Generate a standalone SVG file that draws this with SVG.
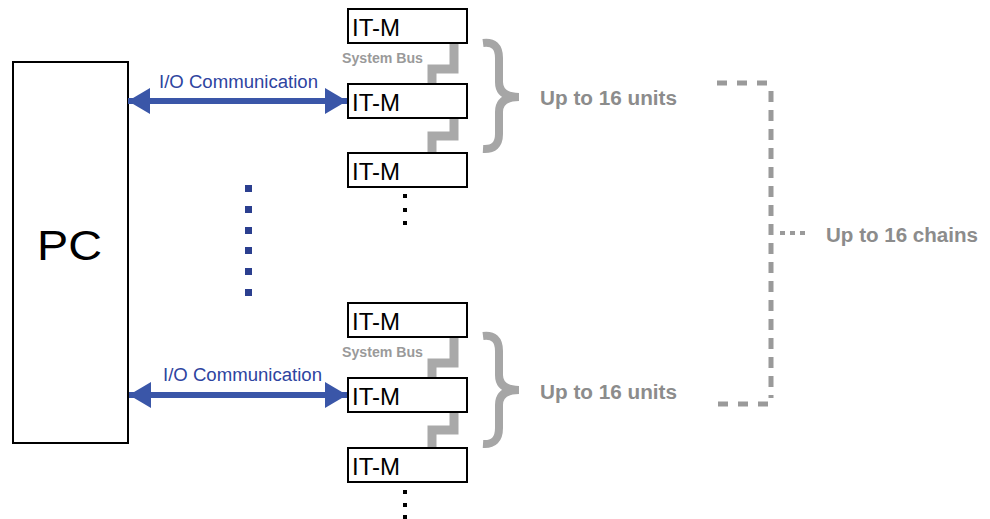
<svg xmlns="http://www.w3.org/2000/svg" width="990" height="519" viewBox="0 0 990 519">
<style>
.box{fill:#fff;stroke:#000;stroke-width:2}
.itm{font-family:"Liberation Sans",Arial,sans-serif;font-size:24px;fill:#000}
.bus{fill:none;stroke:#a9a9a9;stroke-width:9}
.busl{font-family:"Liberation Sans",Arial,sans-serif;font-size:14px;font-weight:bold;fill:#9a9a9a}
.brace{fill:none;stroke:#a6a6a6;stroke-width:8;stroke-linecap:butt}
.gt{font-family:"Liberation Sans",Arial,sans-serif;font-size:20px;font-weight:bold;fill:#8c8c8c}
.io{font-family:"Liberation Sans",Arial,sans-serif;font-size:18px;fill:#2e44a0}
.arr{stroke:#3a56a8;stroke-width:6;fill:none}
.dash{fill:none;stroke:#9a9a9a;stroke-width:5}
</style>
<defs>
<marker id="ah" viewBox="0 0 22 26" refX="22" refY="13" markerWidth="22" markerHeight="26" markerUnits="userSpaceOnUse" orient="auto-start-reverse">
<path d="M0 0 L22 13 L0 26 Z" fill="#3a56a8"/>
</marker>
</defs>

<g id="pc">
<rect class="box" x="13" y="62" width="115" height="381"/>
<text x="37" y="260" font-family="Liberation Sans,Arial,sans-serif" font-size="43" textLength="65" lengthAdjust="spacingAndGlyphs">PC</text>
</g>

<g id="itm1"><rect class="box" x="348" y="9" width="119" height="34"/><text class="itm" x="352" y="36">IT-M</text></g>
<g id="itm2"><rect class="box" x="348" y="84" width="119" height="34"/><text class="itm" x="352" y="111">IT-M</text></g>
<g id="itm3"><rect class="box" x="348" y="153" width="119" height="34"/><text class="itm" x="352" y="180">IT-M</text></g>
<g id="itm4"><rect class="box" x="348" y="303" width="119" height="34"/><text class="itm" x="352" y="330">IT-M</text></g>
<g id="itm5"><rect class="box" x="348" y="378" width="119" height="34"/><text class="itm" x="352" y="405">IT-M</text></g>
<g id="itm6"><rect class="box" x="348" y="448" width="119" height="34"/><text class="itm" x="352" y="475">IT-M</text></g>

<g id="connectors">
<path class="bus" d="M454 44 V69 H432 V83"/>
<path class="bus" d="M454 119 V136 H432 V152"/>
<path class="bus" d="M454 338 V363 H432 V377"/>
<path class="bus" d="M454 413 V430 H432 V447"/>
<line class="arr" x1="128" y1="101" x2="347" y2="101" marker-start="url(#ah)" marker-end="url(#ah)"/>
<line class="arr" x1="129" y1="395" x2="347" y2="395" marker-start="url(#ah)" marker-end="url(#ah)"/>
<path class="dash" d="M717 83 H772" stroke-dasharray="10 10"/>
<path class="dash" d="M771 91 V398" stroke-dasharray="11 8"/>
<path class="dash" d="M718 404 H772" stroke-dasharray="10 10"/>
<path d="M780 233 H810" fill="none" stroke="#9a9a9a" stroke-width="4" stroke-dasharray="5 5"/>
</g>

<g id="labels">
<text class="busl" x="342" y="63" textLength="81" lengthAdjust="spacingAndGlyphs">System Bus</text>
<text class="busl" x="342" y="357" textLength="81" lengthAdjust="spacingAndGlyphs">System Bus</text>
<text class="io" x="159" y="88" textLength="159" lengthAdjust="spacingAndGlyphs">I/O Communication</text>
<text class="io" x="163" y="381" textLength="159" lengthAdjust="spacingAndGlyphs">I/O Communication</text>
<text class="gt" x="540" y="105" textLength="137" lengthAdjust="spacingAndGlyphs">Up to 16 units</text>
<text class="gt" x="540" y="399" textLength="137" lengthAdjust="spacingAndGlyphs">Up to 16 units</text>
<text class="gt" x="826" y="242" textLength="152" lengthAdjust="spacingAndGlyphs">Up to 16 chains</text>
</g>

<g id="braces">
<path class="brace" d="M483 43 Q499 41 499 58 L499 82 Q499 97 519 97 Q499 97 499 112 L499 134 Q499 150 483 149"/>
<path class="brace" d="M483 336 Q499 334 499 351 L499 375 Q499 390 519 390 Q499 390 499 405 L499 428 Q499 445 483 444"/>
</g>

<g id="dots" fill="#2b3f8f">
<rect x="245" y="185" width="7" height="7"/>
<rect x="245" y="206" width="7" height="7"/>
<rect x="245" y="227" width="7" height="7"/>
<rect x="245" y="247" width="7" height="7"/>
<rect x="245" y="268" width="7" height="7"/>
<rect x="245" y="289" width="7" height="7"/>
</g>
<g id="ellipsis" fill="#000">
<rect x="403" y="194" width="4" height="4"/>
<rect x="403" y="208" width="4" height="4"/>
<rect x="403" y="221" width="4" height="4"/>
<rect x="403" y="490" width="4" height="4"/>
<rect x="403" y="503" width="4" height="4"/>
<rect x="403" y="515" width="4" height="4"/>
</g>
</svg>
